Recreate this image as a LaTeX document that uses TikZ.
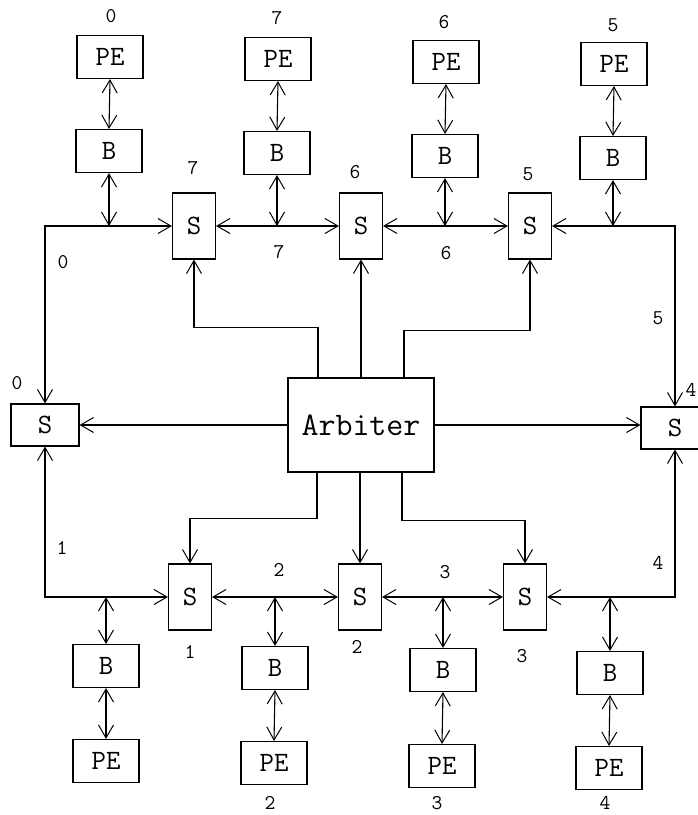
\documentclass[tikz,border=0pt]{standalone}
\usetikzlibrary{arrows.meta}
\begin{document}
\begin{tikzpicture}[x=1pt,y=-1pt,
  box/.style={draw, line width=1.1pt, inner sep=0pt, font=\fontsize{28}{28}\selectfont\ttfamily},
  wbox/.style={box, minimum width=66pt, minimum height=43pt},
  sbox/.style={box, minimum width=43pt, minimum height=66pt},
  hsbox/.style={box, minimum width=68pt, minimum height=42pt},
  num/.style={font=\fontsize{21}{21}\selectfont\ttfamily, inner sep=0pt},
  link/.style={line width=1.1pt},
  barb/.tip={Straight Barb[length=13pt,width=15pt,line width=1pt]},
  tip/.style={link, -barb},
  dtip/.style={link, barb-barb},
]
\useasboundingbox (0,0) rectangle (698,815);
\clip (0,0) rectangle (698,815);

% processing elements and buffers, top row
\node[wbox] (pe0) at (110,57) {PE};
\node[wbox] (b0)  at (109,151) {B};
\node[wbox] (pe7) at (278,59) {PE};
\node[wbox] (b7)  at (277,153) {B};
\node[wbox] (pe6) at (446,62) {PE};
\node[wbox] (b6)  at (445,156) {B};
\node[wbox] (pe5) at (614,64) {PE};
\node[wbox] (b5)  at (613,158) {B};

% switches, top row
\node[sbox] (s7) at (194,226) {S};
\node[sbox] (s6) at (361,226) {S};
\node[sbox] (s5) at (530,226) {S};

% switches at the sides and the arbiter
\node[hsbox] (s0) at (45,425) {S};
\node[hsbox] (s4) at (675,428) {S};
\node[box, minimum width=146pt, minimum height=94pt,
      font=\fontsize{33}{33}\selectfont\ttfamily] (arb) at (361,425) {Arbiter};

% switches, bottom row
\node[sbox] (s1) at (190,597) {S};
\node[sbox] (s2) at (360,597) {S};
\node[sbox] (s3) at (525,597) {S};

% buffers and processing elements, bottom row
\node[wbox] (b1)  at (106,666) {B};
\node[wbox] (pe1) at (106,761) {PE};
\node[wbox] (b2)  at (275,668) {B};
\node[wbox] (pe2) at (274,763) {PE};
\node[wbox] (b3)  at (443,670) {B};
\node[wbox] (pe3) at (442,766) {PE};
\node[wbox] (b4)  at (610,673) {B};
\node[wbox] (pe4) at (609,768) {PE};

% PE <-> B links
\foreach \n in {0,7,6,5} \draw[dtip] (pe\n.south) -- (b\n.north);
\foreach \n in {1,2,3,4} \draw[dtip] (b\n.south) -- (pe\n.north);

% ring segments
\draw[dtip] (s7.west) -| (s0.north);
\draw[dtip] (s7.east) -- (s6.west);
\draw[dtip] (s6.east) -- (s5.west);
\draw[dtip] (s5.east) -| (s4.north);
\draw[dtip] (s0.south) |- (s1.west);
\draw[dtip] (s1.east) -- (s2.west);
\draw[dtip] (s2.east) -- (s3.west);
\draw[dtip] (s3.east) -| (s4.south);

% buffer taps on the ring
\draw[dtip] (b0.south) -- (b0.south |- s7.west);
\draw[dtip] (b7.south) -- (b7.south |- s7.east);
\draw[dtip] (b6.south) -- (b6.south |- s6.east);
\draw[dtip] (b5.south) -- (b5.south |- s5.east);
\draw[dtip] (b1.north) -- (b1.north |- s1.west);
\draw[dtip] (b2.north) -- (b2.north |- s1.east);
\draw[dtip] (b3.north) -- (b3.north |- s2.east);
\draw[dtip] (b4.north) -- (b4.north |- s3.east);

% arbiter control lines
\draw[tip] ([xshift=-43pt]arb.north) -- ++(0,-50) -| (s7.south);
\draw[tip] (s6.south |- arb.north) -- (s6.south);
\draw[tip] ([xshift=43pt]arb.north) -- ++(0,-47) -| (s5.south);
\draw[tip] (arb.west) -- (s0.east);
\draw[tip] (arb.east) -- (s4.west |- arb.east);
\draw[tip] ([xshift=-44pt]arb.south) -- ++(0,46) -| (s1.north);
\draw[tip] (s2.north |- arb.south) -- (s2.north);
\draw[tip] ([xshift=41pt]arb.south) -- ++(0,48) -| (s3.north);

% numbering
\node[num] (n1)  at (111,16) {0};
\node[num] (n2)  at (277,18) {7};
\node[num] (n3)  at (444,22) {6};
\node[num] (n4)  at (613,25) {5};
\node[num] (n5)  at (193,168) {7};
\node[num] (n6)  at (355,172) {6};
\node[num] (n7)  at (528,174) {5};
\node[num] (n8)  at (279,252) {7};
\node[num] (n9)  at (446,253) {6};
\node[num] (n10) at (63,262) {0};
\node[num] (n11) at (658,318) {5};
\node[num] (n12) at (17,383) {0};
\node[num] (n13) at (691,390) {4};
\node[num] (n14) at (62,548) {1};
\node[num] (n15) at (658,563) {4};
\node[num] (n16) at (279,570) {2};
\node[num] (n17) at (445,572) {3};
\node[num] (n18) at (190,652) {1};
\node[num] (n19) at (357,647) {2};
\node[num] (n20) at (522,656) {3};
\node[num] (n21) at (270,803) {2};
\node[num] (n22) at (437,803) {3};
\node[num] (n23) at (605,803) {4};
\end{tikzpicture}
\end{document}
